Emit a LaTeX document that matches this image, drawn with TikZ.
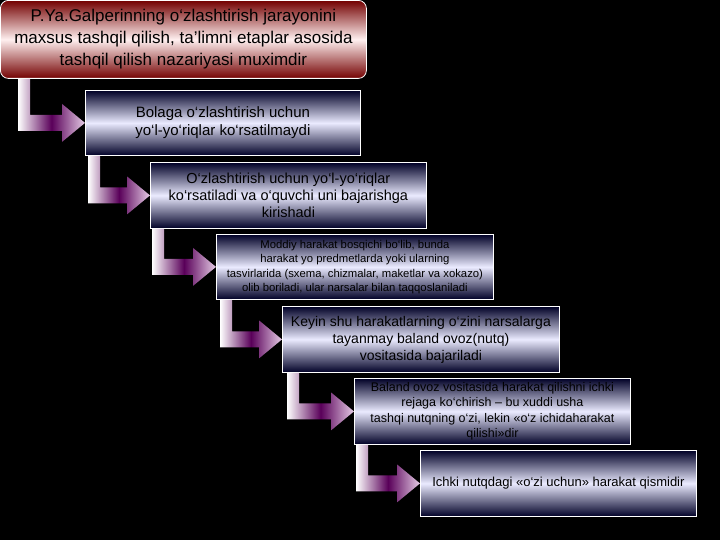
\documentclass[tikz,border=0pt]{standalone}
\usepackage{fontspec}
\usetikzlibrary{calc}
\setmainfont{Liberation Sans}
\newcommand\bq{\char96\relax}
\begin{document}
\begin{tikzpicture}[x=1pt,y=-1pt,
  stepbox/.style={draw=white,line width=0.8pt,top color=black!85!blue,bottom color=black!85!blue,middle color=white!92!blue,align=center,inner sep=1pt,anchor=north west},
  titlebox/.style={draw=white,line width=0.8pt,rounded corners=8pt,top color=red!45!black,bottom color=red!45!black,middle color=red!6,align=center,anchor=north west,inner sep=1pt}]
\fill[black] (0,0) rectangle (720,540);
\useasboundingbox (0,0) rectangle (720,540);
\node[titlebox,minimum width=366pt,minimum height=78pt,font=\fontsize{17}{22}\selectfont] (t) at (0,0) {P.Ya.Galperinning o\bq{}zlashtirish jarayonini\\maxsus tashqil qilish, ta’limni etaplar asosida\\tashqil qilish nazariyasi muximdir};
\node[stepbox,minimum width=275pt,minimum height=65pt,font=\fontsize{15}{18}\selectfont] (b1) at (85,90) {Bolaga o\bq{}zlashtirish uchun\\yo\bq{}l-yo\bq{}riqlar ko\bq{}rsatilmaydi};
\node[stepbox,minimum width=276pt,minimum height=66pt,font=\fontsize{14.5}{17}\selectfont] (b2) at (150,162) {O\bq{}zlashtirish uchun yo\bq{}l-yo\bq{}riqlar\\ko\bq{}rsatiladi va o\bq{}quvchi uni bajarishga\\kirishadi};
\node[stepbox,minimum width=277pt,minimum height=65pt,font=\fontsize{11.3}{14.5}\selectfont] (b3) at (216,234) {Moddiy harakat bosqichi bo\bq{}lib, bunda\\harakat yo predmetlarda yoki ularning\\tasvirlarida (sxema, chizmalar, maketlar va xokazo)\\olib boriladi, ular narsalar bilan taqqoslaniladi};
\node[stepbox,minimum width=277pt,minimum height=66pt,font=\fontsize{14}{17}\selectfont] (b4) at (282,306) {Keyin shu harakatlarning o\bq{}zini narsalarga\\tayanmay baland ovoz(nutq)\\vositasida bajariladi};
\node[stepbox,minimum width=276pt,minimum height=66pt,font=\fontsize{12.5}{15.5}\selectfont] (b5) at (354,378) {Baland ovoz vositasida harakat qilishni ichki\\rejaga ko\bq{}chirish – bu xuddi usha\\tashqi nutqning o\bq{}zi, lekin «o\bq{}z ichidaharakat\\qilishi»dir};
\node[stepbox,minimum width=276pt,minimum height=66pt,font=\fontsize{13}{15}\selectfont] (b6) at (420,450) {Ichki nutqdagi «o\bq{}zi uchun» harakat qismidir};
\foreach \a/\b/\xl in {t/b1/18, b1/b2/88, b2/b3/152, b3/b4/220, b4/b5/287, b5/b6/356}{
  \shade[left color=white,right color=violet!20,middle color=violet!70!black]
    let \p1=(\b.west), \p2=(\a.south) in
    (\xl pt,\y2) -- (\xl pt+12pt,\y2) -- (\xl pt+12pt,\y1+8pt) -- (\x1-23pt,\y1+8pt)
    -- (\x1-23pt,\y1+19pt) -- (\x1,\y1) -- (\x1-23pt,\y1-19pt) -- (\x1-23pt,\y1-8pt)
    -- (\xl pt,\y1-8pt) -- cycle;
}
\end{tikzpicture}
\end{document}
